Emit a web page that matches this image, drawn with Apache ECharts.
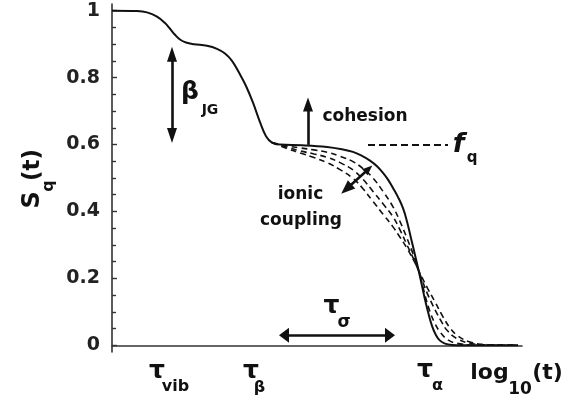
<!DOCTYPE html>
<html>
<head>
<meta charset="utf-8">
<script src="https://cdn.jsdelivr.net/npm/echarts@6/dist/echarts.min.js"></script>
<style>
  html, body { margin: 0; padding: 0; background: #fff; }
  #chart { width: 577px; height: 403px; }
</style>
</head>
<body>
<div id="chart"></div>
<script>
// log10(t) in arbitrary units, S_q(t)
var solidX = [0, 2.5, 3.5, 4.5, 5.3, 5.8, 6.3, 6.8, 7.4, 8.2, 9.5, 10.5, 11.3, 12.0, 12.7, 13.4, 14.1, 14.8, 15.4, 16.0, 16.8, 19.0, 21.5, 23.0, 24.1, 25.0, 25.8, 26.5, 27.1, 27.6, 28.1, 28.6, 29.1, 29.5, 29.9, 30.3, 30.8, 31.2, 31.6, 32.0, 32.4, 32.8, 33.3, 34.0, 35.0, 40.6]
var solidY = [1.0, 0.999, 0.995, 0.982, 0.963, 0.946, 0.928, 0.914, 0.905, 0.9, 0.895, 0.886, 0.872, 0.85, 0.815, 0.775, 0.725, 0.667, 0.625, 0.606, 0.6, 0.598, 0.593, 0.586, 0.578, 0.566, 0.552, 0.535, 0.515, 0.495, 0.47, 0.443, 0.41, 0.37, 0.32, 0.27, 0.205, 0.15, 0.1, 0.058, 0.03, 0.014, 0.005, 0.001, 0, 0]

var dashAX = [16.0, 17.5, 18.8, 20.2, 21.5, 22.8, 24.1, 25.1, 26.1, 27.1, 28.1, 28.8, 29.5, 30.2, 30.8, 31.3, 31.8, 32.3, 32.8, 33.6, 34.5, 36, 40.6]
var dashAY = [0.606, 0.596, 0.59, 0.584, 0.577, 0.565, 0.549, 0.528, 0.5, 0.46, 0.414, 0.37, 0.32, 0.265, 0.21, 0.15, 0.1, 0.065, 0.04, 0.016, 0.006, 0.001, 0]
var dashBX = [16.0, 17.5, 18.8, 20.2, 21.5, 22.8, 24.1, 25.1, 26.1, 27.1, 28.1, 28.8, 29.5, 30.2, 30.8, 31.6, 32.5, 33.0, 33.5, 34.5, 35.8, 37.5, 40.6]
var dashBY = [0.606, 0.592, 0.581, 0.572, 0.562, 0.546, 0.524, 0.496, 0.46, 0.423, 0.384, 0.345, 0.3, 0.255, 0.212, 0.15, 0.095, 0.068, 0.045, 0.02, 0.006, 0.001, 0]
var dashCX = [16.0, 17.5, 18.8, 20.2, 21.5, 22.8, 24.1, 25.1, 26.1, 27.1, 28.1, 28.8, 29.5, 30.2, 30.8, 31.6, 32.3, 33.1, 33.8, 34.5, 35.8, 37.5, 40.6]
var dashCY = [0.606, 0.588, 0.575, 0.561, 0.546, 0.525, 0.499, 0.468, 0.43, 0.392, 0.354, 0.323, 0.29, 0.252, 0.215, 0.168, 0.13, 0.085, 0.052, 0.03, 0.01, 0.002, 0]

var yTickLabels = [0, 0.2, 0.4, 0.6, 0.8, 1]
var yMinorTicks = [0.05, 0.1, 0.15, 0.25, 0.3, 0.35, 0.45, 0.5, 0.55, 0.65, 0.7, 0.75, 0.85, 0.9, 0.95]
var fqLevel = 0.6

var FONT = 'DejaVu Sans'
var INK = '#111'

function zip (xs, ys) {
  var out = []
  for (var i = 0; i < xs.length; i++) out.push([xs[i], ys[i]])
  return out
}

// text annotations, placed in data coordinates
var notes = [
  { at: [7.8, 0.757], text: 'β', size: 25 },
  { at: [9.8, 0.703], text: 'JG', size: 14 },
  { at: [25.3, 0.683], text: 'cohesion', size: 17 },
  { at: [18.85, 0.45], text: 'ionic', size: 17 },
  { at: [18.9, 0.373], text: 'coupling', size: 17 },
  { at: [34.65, 0.6], text: 'f', size: 27, italic: true },
  { at: [36.0, 0.559], text: 'q', size: 15 },
  { at: [21.95, 0.117], text: 'τ', size: 25 },
  { at: [23.2, 0.069], text: 'σ', size: 17 },
  { at: [4.5, -0.078], text: 'τ', size: 25 },
  { at: [6.35, -0.125], text: 'vib', size: 16 },
  { at: [13.9, -0.078], text: 'τ', size: 25 },
  { at: [14.75, -0.128], text: 'β', size: 16 },
  { at: [31.3, -0.075], text: 'τ', size: 25 },
  { at: [32.55, -0.12], text: 'α', size: 16 },
  { at: [37.75, -0.083], text: 'log', size: 22 },
  { at: [40.8, -0.133], text: '10', size: 17 },
  { at: [43.55, -0.085], text: '(t)', size: 22 },
  { at: [-7.9, 0.435], text: 'S', size: 24, rotate: 90 },
  { at: [-6.3, 0.476], text: 'q', size: 16, rotate: 90 },
  { at: [-7.9, 0.539], text: '(t)', size: 23, rotate: 90 }
]

// arrows: [from, to, head at from, head at to]
var arrows = [
  [[6.0, 0.870], [6.0, 0.627], [10, 15], [10, 15]],
  [[19.6, 0.599], [19.6, 0.72], null, [10, 14]],
  [[17.2, 0.03], [27.8, 0.03], [15, 10], [15, 10]],
  [[25.66, 0.527], [23.44, 0.467], [8, 10], [11, 14]]
]

var arrowLines = arrows.map(function (a) {
  return [
    { coord: a[0], symbol: a[2] ? 'triangle' : 'none', symbolSize: a[2] || 0 },
    { coord: a[1], symbol: a[3] ? 'triangle' : 'none', symbolSize: a[3] || 0 }
  ]
})
arrowLines.push([
  { coord: [25.6, fqLevel], symbol: 'none', lineStyle: { type: [7, 4], width: 1.8 } },
  { coord: [33.6, fqLevel], symbol: 'none' }
])

var noteData = notes.map(function (n) {
  return {
    value: n.at,
    label: {
      show: true,
      position: 'inside',
      formatter: n.text,
      fontFamily: FONT,
      fontWeight: 'bold',
      fontStyle: n.italic ? 'italic' : 'normal',
      fontSize: n.size,
      color: INK,
      opacity: 1,
      textBorderWidth: 0,
      rotate: n.rotate || 0
    }
  }
})

function dashed (name, xs, ys) {
  return {
    name: name,
    type: 'line',
    data: zip(xs, ys),
    smooth: 0.4,
    showSymbol: false,
    lineStyle: { color: INK, width: 1.6, type: [6, 4] },
    z: 2
  }
}

var chart = echarts.init(document.getElementById('chart'))
chart.setOption({
  animation: false,
  backgroundColor: '#fff',
  grid: { left: 112, right: 55, top: 4, bottom: 51 },
  xAxis: {
    type: 'value',
    min: 0,
    max: 41,
    axisLine: { show: true, lineStyle: { color: '#333', width: 1.6 } },
    axisTick: { show: false },
    axisLabel: { show: false },
    splitLine: { show: false }
  },
  yAxis: [{
    type: 'value',
    min: -0.02,
    max: 1.02,
    axisLine: { show: true, lineStyle: { color: '#333', width: 1.6 } },
    axisTick: { show: true, inside: true, length: 5, customValues: yTickLabels, lineStyle: { color: '#333', width: 1.4 } },
    axisLabel: { customValues: yTickLabels, margin: 12, fontFamily: FONT, fontWeight: 'bold', fontSize: 19, color: '#222' },
    splitLine: { show: false }
  }, {
    type: 'value',
    position: 'left',
    min: -0.02,
    max: 1.02,
    axisLine: { show: false },
    axisTick: { show: true, inside: true, length: 4, customValues: yMinorTicks, lineStyle: { color: '#333', width: 1.4 } },
    axisLabel: { show: false },
    splitLine: { show: false }
  }],
  series: [
    dashed('c', dashCX, dashCY),
    dashed('b', dashBX, dashBY),
    dashed('a', dashAX, dashAY),
    {
      name: 'solid',
      type: 'line',
      data: zip(solidX, solidY),
      smooth: 0.4,
      showSymbol: false,
      lineStyle: { color: INK, width: 2 },
      z: 3,
      markLine: {
        silent: true,
        animation: false,
        label: { show: false },
        lineStyle: { color: INK, width: 2.6, type: 'solid' },
        emphasis: { disabled: true },
        data: arrowLines
      }
    },
    {
      name: 'notes',
      type: 'scatter',
      symbolSize: 0,
      clip: false,
      silent: true,
      itemStyle: { opacity: 1 },
      data: noteData,
      z: 5
    }
  ]
})
</script>
</body>
</html>
